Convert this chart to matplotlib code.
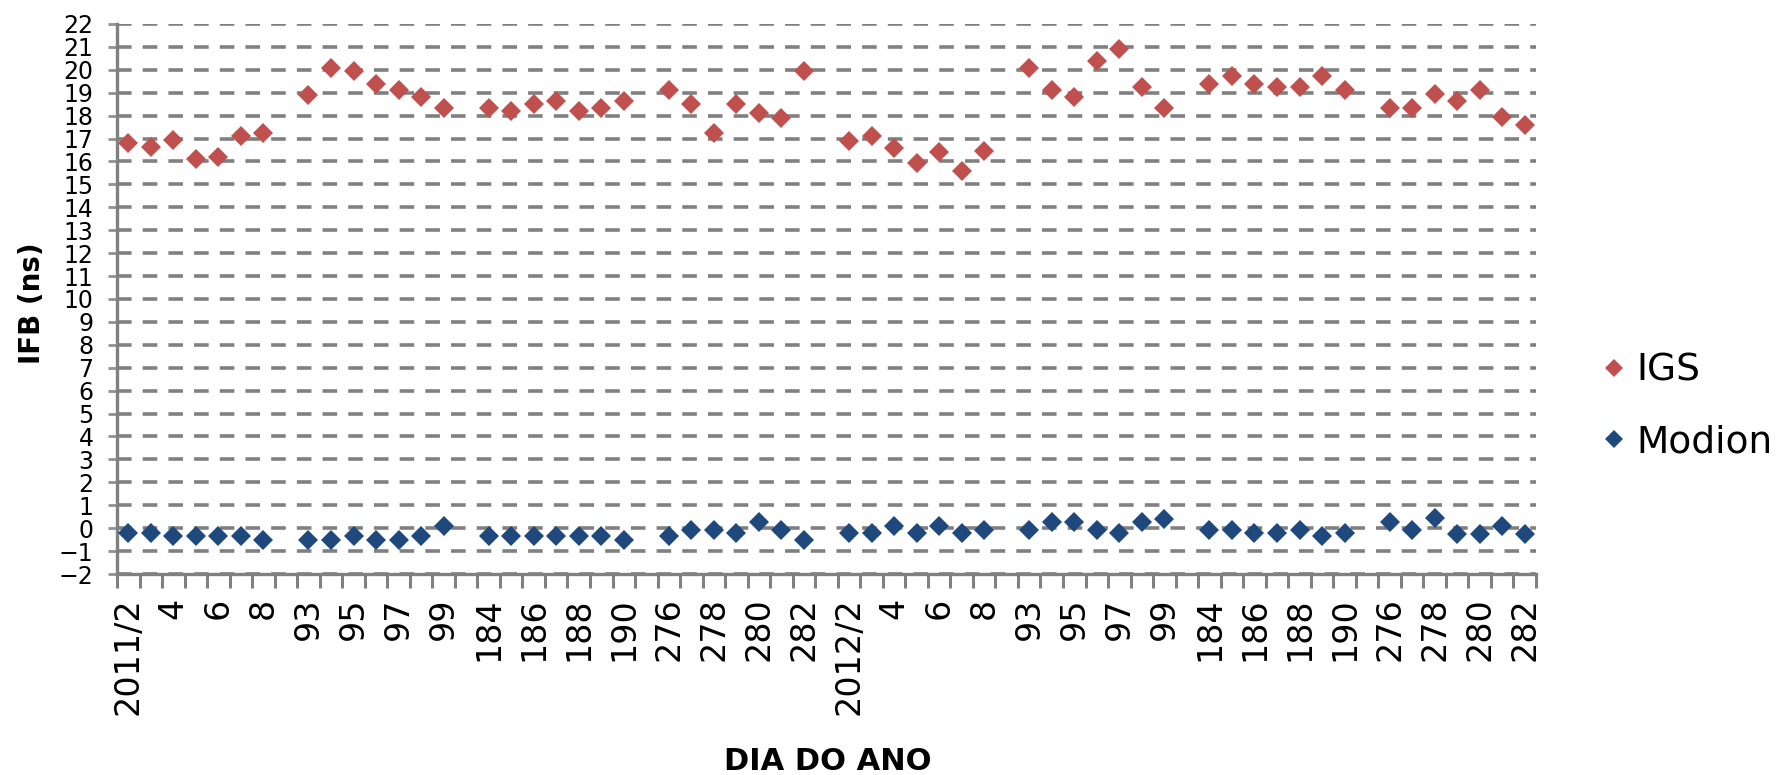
import numpy as np
import matplotlib
matplotlib.use("Agg")
import matplotlib.pyplot as plt

plt.rcParams['font.family'] = ['DejaVu Sans']
plt.rcParams['lines.scale_dashes'] = False

# categorias do eixo X (string vazia = intervalo entre grupos)
dias = ['2011/2', '3', '4', '5', '6', '7', '8', '',
        '93', '94', '95', '96', '97', '98', '99', '',
        '184', '185', '186', '187', '188', '189', '190', '',
        '276', '277', '278', '279', '280', '281', '282', '',
        '2012/2', '3', '4', '5', '6', '7', '8', '',
        '93', '94', '95', '96', '97', '98', '99', '',
        '184', '185', '186', '187', '188', '189', '190', '',
        '276', '277', '278', '279', '280', '281', '282']

igs = [16.8, 16.65, 16.95, 16.1, 16.2, 17.1, 17.25, None,
       18.9, 20.1, 19.95, 19.4, 19.1, 18.8, 18.35, None,
       18.35, 18.2, 18.5, 18.65, 18.2, 18.35, 18.65, None,
       19.1, 18.5, 17.25, 18.5, 18.1, 17.9, 19.95, None,
       16.9, 17.1, 16.6, 15.95, 16.4, 15.6, 16.45, None,
       20.1, 19.1, 18.8, 20.4, 20.9, 19.25, 18.35, None,
       19.4, 19.75, 19.4, 19.25, 19.25, 19.75, 19.1, None,
       18.35, 18.35, 18.95, 18.65, 19.1, 17.95, 17.6]

modion = [-0.23, -0.23, -0.36, -0.36, -0.36, -0.36, -0.5, None,
          -0.5, -0.5, -0.36, -0.5, -0.5, -0.36, 0.1, None,
          -0.36, -0.36, -0.36, -0.36, -0.36, -0.36, -0.5, None,
          -0.36, -0.08, -0.08, -0.23, 0.25, -0.08, -0.5, None,
          -0.23, -0.23, 0.1, -0.23, 0.1, -0.23, -0.08, None,
          -0.08, 0.25, 0.25, -0.08, -0.23, 0.25, 0.4, None,
          -0.08, -0.08, -0.23, -0.23, -0.08, -0.36, -0.23, None,
          0.28, -0.08, 0.45, -0.25, -0.25, 0.1, -0.25]

x = np.arange(len(dias))
y_igs = np.array(igs, dtype=float)
y_mod = np.array(modion, dtype=float)

fig = plt.figure(figsize=(17.79, 7.75), dpi=100)
ax = fig.add_axes([117 / 1779, 1 - 574 / 775, 1419 / 1779, 550 / 775])

ax.plot(x, y_igs, 'D', color='#C0504D', markersize=10, markeredgewidth=0,
        label='IGS', zorder=3, clip_on=False)
ax.plot(x, y_mod, 'D', color='#1F497D', markersize=10, markeredgewidth=0,
        label='Modion', zorder=3, clip_on=False)

ax.set_xlim(-0.5, len(dias) - 0.5)
ax.set_ylim(-2, 22)

# grade tracejada
ax.set_yticks(range(-2, 23))
ax.yaxis.grid(True, color='#808080', linewidth=2.6, dashes=(10.5, 8))
ax.set_axisbelow(True)

for s in ['top', 'right']:
    ax.spines[s].set_visible(False)
for s in ['left', 'bottom']:
    ax.spines[s].set_color('#808080')
    ax.spines[s].set_linewidth(2.4)
    ax.spines[s].set_zorder(2.5)

ax.tick_params(axis='y', direction='out', length=6.5, width=2, color='#909090',
               labelsize=17, pad=10.5)

# rótulos a cada 2 categorias, marcas entre categorias
pos = x[::2]
ax.set_xticks(pos)
ax.set_xticklabels([dias[i] for i in pos], rotation=90, fontsize=24)
ax.tick_params(axis='x', which='major', length=0, pad=17)
ax.set_xticks(np.arange(-0.5, len(dias), 1), minor=True)
ax.tick_params(axis='x', which='minor', direction='out', length=10,
               width=2.2, color='#808080')

fig.text(32 / 1779, 1 - 303 / 775, 'IFB (ns)', rotation=90, ha='center',
         va='center', fontsize=20, fontweight='bold')
fig.text(828 / 1779, 1 - 761 / 775, 'DIA DO ANO', ha='center', va='center',
         fontsize=22, fontweight='bold')

ax.legend(loc='center left', bbox_to_anchor=(1580 / 1779, 1 - 406.5 / 775),
          bbox_transform=fig.transFigure, frameon=False, fontsize=27,
          numpoints=1, handlelength=0.8, handletextpad=0.2, borderpad=0,
          labelspacing=0.95, markerscale=0.9)

fig.savefig('out.png', dpi=100)
